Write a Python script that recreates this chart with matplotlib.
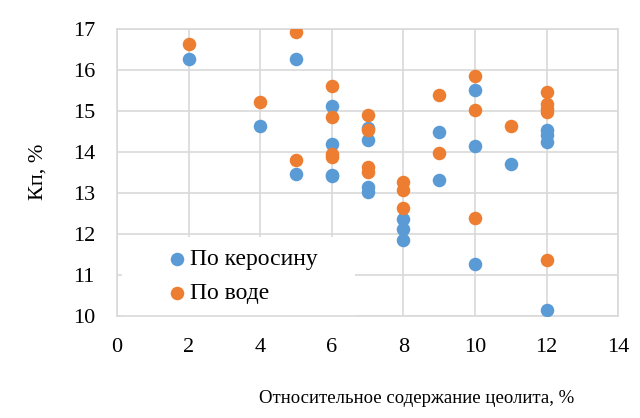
import matplotlib
matplotlib.use('Agg')
import matplotlib.pyplot as plt
from matplotlib.patches import Rectangle

# Кп по керосину
kero_x = [2, 4, 5, 5, 6, 6, 6, 6, 7, 7, 7, 7, 8, 8, 8, 9, 9, 10, 10, 10, 11, 12, 12, 12, 12]
kero_y = [16.27, 14.62, 16.27, 13.45, 15.11, 14.18, 13.44, 13.40, 14.58, 14.28, 13.14, 13.02,
          12.36, 12.12, 11.84, 14.47, 13.30, 15.50, 14.13, 11.25, 13.70, 14.52, 14.40, 14.23, 10.14]

# Кп по воде
water_x = [2, 4, 5, 5, 6, 6, 6, 6, 7, 7, 7, 7, 8, 8, 8, 9, 9, 10, 10, 10, 11, 12, 12, 12, 12, 12]
water_y = [16.62, 15.21, 16.92, 13.79, 15.60, 14.86, 13.95, 13.88, 14.90, 14.52, 13.63, 13.50,
           13.27, 13.07, 12.62, 15.39, 13.98, 15.84, 15.01, 12.38, 14.62, 15.45, 15.17, 15.05, 14.98, 11.36]

BLUE = '#5B9BD5'
ORANGE = '#ED7D31'
GRID = '#D9D9D9'

plt.rcParams['font.family'] = ['Liberation Serif', 'DejaVu Serif']

fig = plt.figure(figsize=(6.4, 4.18), dpi=100)
ax = fig.add_axes([0.183, 0.245, 0.783, 0.686])

ax.scatter(kero_x, kero_y, s=95, color=BLUE, label='По керосину', zorder=3, linewidths=0)
ax.scatter(water_x, water_y, s=95, color=ORANGE, label='По воде', zorder=4, linewidths=0)

ax.set_xlim(0, 14)
ax.set_ylim(10, 17)
ax.set_xticks(range(0, 15, 2))
ax.set_yticks(range(10, 18))
ax.grid(True, color=GRID, linewidth=1.2, zorder=0)
ax.set_axisbelow(True)
for sp in ax.spines.values():
    sp.set_color(GRID)
    sp.set_linewidth(1.2)
ax.tick_params(length=0, labelsize=16, pad=16)

ax.set_xlabel('Относительное содержание цеолита, %', fontsize=13.5)
ax.xaxis.set_label_coords(0.597, -0.26)
ax.set_ylabel('Кп, %', fontsize=16, labelpad=18)

# white legend area like in the original (covers the gridlines)
ax.add_patch(Rectangle((0.01, 0.0), 0.465, 0.274, transform=ax.transAxes,
                       facecolor='white', edgecolor='none', zorder=1))

leg = ax.legend(loc='lower left', bbox_to_anchor=(0.073, 0.0), fontsize=17, frameon=False,
                handletextpad=0.05, handlelength=1.0, labelspacing=0.5, borderpad=0.5,
                borderaxespad=0.0)
leg.set_zorder(5)

fig.savefig('out.png', dpi=100)
